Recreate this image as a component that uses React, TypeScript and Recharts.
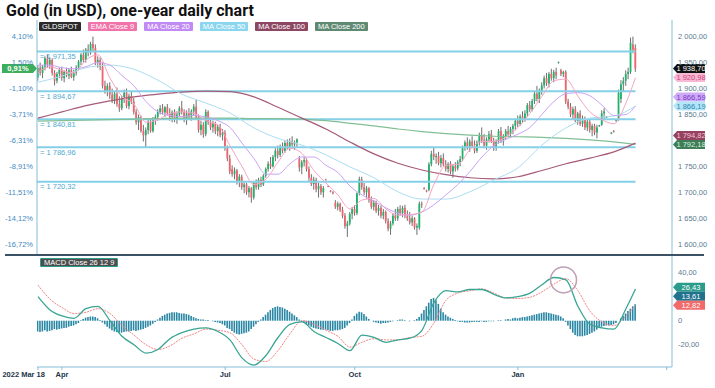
import React from "react";
import { ComposedChart, Bar, Line, XAxis, YAxis, ReferenceLine, ReferenceDot } from "recharts";

// daily gold spot sessions from 2022 Mar 18: [open, high, low, close]
const candles: ([number, number, number, number] | null)[] = [
  [1921, 1945, 1915, 1940], [1940, 1950, 1925, 1930], [1930, 1945, 1920, 1942], [1942, 1962, 1935, 1958], [1958, 1966, 1940, 1946],
  [1946, 1960, 1938, 1955], [1955, 1958, 1925, 1930], [1930, 1935, 1906, 1915], [1915, 1932, 1910, 1928], [1928, 1940, 1920, 1936],
  [1936, 1942, 1915, 1920], [1920, 1935, 1912, 1932], [1932, 1940, 1922, 1925], [1925, 1938, 1918, 1935], [1935, 1942, 1920, 1922],
  [1922, 1936, 1915, 1930], [1930, 1945, 1925, 1940], [1940, 1955, 1935, 1952], [1952, 1968, 1945, 1965], [1965, 1975, 1950, 1955],
  [1955, 1978, 1950, 1975], [1975, 1985, 1962, 1970], [1970, 1990, 1965, 1986], [1986, 2000, 1972, 1978], [1978, 1985, 1945, 1950],
  [1950, 1962, 1940, 1955], [1955, 1960, 1935, 1942], [1942, 1950, 1900, 1905], [1905, 1915, 1890, 1895], [1895, 1910, 1885, 1905],
  [1905, 1912, 1880, 1888], [1888, 1900, 1872, 1876], [1876, 1895, 1870, 1890], [1890, 1902, 1865, 1870], [1870, 1885, 1855, 1862],
  [1862, 1885, 1858, 1880], [1880, 1898, 1872, 1892], [1892, 1900, 1862, 1866], [1866, 1890, 1860, 1885], [1885, 1895, 1870, 1875],
  [1875, 1882, 1850, 1855], [1855, 1860, 1830, 1835], [1835, 1850, 1820, 1845], [1845, 1848, 1815, 1818], [1818, 1830, 1798, 1810],
  [1810, 1825, 1787, 1820], [1820, 1840, 1812, 1835], [1835, 1842, 1815, 1818], [1818, 1845, 1815, 1840], [1840, 1850, 1830, 1845],
  [1845, 1860, 1838, 1855], [1855, 1868, 1850, 1862], [1862, 1870, 1850, 1854], [1854, 1866, 1845, 1864], [1864, 1870, 1848, 1852],
  [1852, 1862, 1838, 1845], [1845, 1858, 1835, 1855], [1855, 1860, 1835, 1840], [1840, 1856, 1832, 1850], [1850, 1866, 1845, 1862],
  [1862, 1876, 1850, 1855], [1855, 1860, 1835, 1840], [1840, 1858, 1830, 1852], [1852, 1862, 1840, 1846], [1846, 1860, 1838, 1856],
  [1856, 1870, 1848, 1865], [1865, 1878, 1840, 1845], [1845, 1850, 1815, 1820], [1820, 1838, 1810, 1830], [1830, 1835, 1805, 1812],
  [1812, 1860, 1808, 1855], [1855, 1858, 1830, 1835], [1835, 1842, 1820, 1825], [1825, 1838, 1815, 1832], [1832, 1836, 1812, 1818],
  [1818, 1830, 1808, 1826], [1826, 1832, 1806, 1810], [1810, 1822, 1800, 1815], [1815, 1820, 1780, 1785], [1785, 1790, 1760, 1765],
  [1765, 1772, 1735, 1740], [1745, 1752, 1730, 1735], [1735, 1748, 1725, 1742], [1742, 1745, 1715, 1720], [1720, 1735, 1710, 1730],
  [1730, 1734, 1705, 1710], [1710, 1722, 1698, 1715], [1715, 1718, 1695, 1700], [1700, 1712, 1690, 1708], [1708, 1710, 1680, 1690],
  [1690, 1722, 1686, 1718], [1718, 1725, 1705, 1710], [1710, 1728, 1705, 1724], [1724, 1730, 1710, 1715], [1715, 1735, 1712, 1732],
  [1732, 1748, 1728, 1745], [1745, 1760, 1740, 1755], [1755, 1768, 1745, 1750], [1750, 1772, 1748, 1768], [1768, 1785, 1760, 1780],
  [1780, 1790, 1765, 1772], [1772, 1792, 1768, 1788], [1788, 1796, 1775, 1780], [1780, 1800, 1776, 1795], [1795, 1802, 1782, 1786],
  [1786, 1804, 1780, 1798], [1798, 1808, 1788, 1792], [1792, 1800, 1782, 1796], [1796, 1804, 1786, 1802], [1765, 1770, 1740, 1748],
  [1748, 1762, 1735, 1758], [1758, 1768, 1750, 1762], [1762, 1766, 1740, 1745], [1745, 1750, 1722, 1728], [1728, 1735, 1712, 1716],
  [1716, 1730, 1705, 1724], [1724, 1728, 1700, 1706], [1706, 1718, 1690, 1712], [1712, 1716, 1695, 1700], [1700, 1712, 1690, 1708],
  [1725, 1726, 1723, 1724], [1712, 1713, 1710, 1711], [1703, 1704, 1700, 1701], [1700, 1702, 1696, 1698], [1680, 1685, 1668, 1672],
  [1672, 1682, 1665, 1678], [1678, 1680, 1662, 1666], [1666, 1672, 1650, 1655], [1655, 1660, 1630, 1635], [1635, 1645, 1614, 1640],
  [1640, 1662, 1636, 1658], [1658, 1672, 1648, 1668], [1668, 1675, 1655, 1660], [1660, 1700, 1656, 1698], [1698, 1730, 1694, 1725],
  [1725, 1730, 1705, 1710], [1710, 1718, 1695, 1700], [1700, 1712, 1688, 1708], [1708, 1710, 1680, 1685], [1685, 1692, 1668, 1672],
  [1672, 1685, 1665, 1680], [1680, 1684, 1660, 1664], [1664, 1676, 1655, 1670], [1670, 1674, 1650, 1655], [1655, 1668, 1648, 1662],
  [1662, 1665, 1640, 1645], [1645, 1650, 1625, 1630], [1630, 1645, 1618, 1640], [1640, 1660, 1636, 1655], [1655, 1668, 1645, 1650],
  [1650, 1672, 1645, 1668], [1668, 1675, 1655, 1660], [1660, 1674, 1652, 1670], [1670, 1676, 1650, 1655], [1655, 1665, 1645, 1650],
  [1650, 1662, 1638, 1642], [1642, 1655, 1635, 1650], [1650, 1652, 1628, 1632], [1632, 1640, 1618, 1635], [1632, 1682, 1628, 1678],
  [1678, 1682, 1670, 1676], [1708, 1710, 1705, 1707], [1703, 1705, 1700, 1702], [1705, 1758, 1702, 1754], [1754, 1780, 1750, 1774],
  [1774, 1788, 1762, 1768], [1768, 1775, 1755, 1770], [1770, 1778, 1752, 1756], [1756, 1772, 1748, 1766], [1766, 1775, 1750, 1754],
  [1754, 1762, 1740, 1745], [1745, 1758, 1738, 1755], [1755, 1760, 1735, 1740], [1740, 1754, 1728, 1750], [1750, 1758, 1740, 1746],
  [1746, 1762, 1742, 1758], [1758, 1770, 1750, 1764], [1764, 1790, 1760, 1786], [1786, 1800, 1780, 1796], [1796, 1806, 1782, 1788],
  [1788, 1802, 1778, 1798], [1798, 1808, 1785, 1790], [1790, 1800, 1775, 1780], [1780, 1800, 1776, 1796], [1796, 1815, 1790, 1810],
  [1810, 1825, 1795, 1800], [1800, 1812, 1785, 1790], [1790, 1806, 1782, 1802], [1802, 1818, 1796, 1812], [1812, 1820, 1795, 1798],
  [1798, 1805, 1780, 1786], [1786, 1802, 1780, 1798], [1798, 1822, 1794, 1818], [1818, 1826, 1795, 1800], [1800, 1812, 1790, 1808],
  [1808, 1822, 1802, 1818], [1818, 1828, 1806, 1812], [1812, 1826, 1805, 1822], [1822, 1832, 1812, 1828], [1828, 1842, 1820, 1838],
  [1838, 1848, 1826, 1832], [1832, 1850, 1828, 1846], [1846, 1856, 1835, 1840], [1840, 1858, 1836, 1852], [1852, 1872, 1845, 1868],
  [1868, 1876, 1855, 1860], [1860, 1880, 1856, 1876], [1876, 1895, 1870, 1890], [1890, 1905, 1875, 1880], [1880, 1900, 1872, 1896],
  [1896, 1912, 1888, 1906], [1906, 1925, 1900, 1920], [1920, 1930, 1905, 1910], [1910, 1932, 1902, 1928], [1928, 1938, 1915, 1920],
  [1920, 1936, 1912, 1932], [1932, 1940, 1918, 1925], [1950, 1952, 1948, 1951], [1935, 1938, 1924, 1928], [1928, 1934, 1922, 1932],
  [1932, 1935, 1870, 1875], [1875, 1880, 1860, 1865], [1865, 1872, 1845, 1850], [1850, 1865, 1840, 1860], [1860, 1866, 1835, 1838],
  [1838, 1855, 1830, 1852], [1852, 1858, 1828, 1832], [1832, 1848, 1826, 1842], [1842, 1846, 1820, 1825], [1825, 1840, 1818, 1836],
  [1836, 1840, 1815, 1820], [1820, 1832, 1808, 1828], [1828, 1832, 1810, 1815], [1815, 1830, 1804, 1825], [1828, 1830, 1826, 1829],
  [1830, 1858, 1828, 1852], [1852, 1862, 1840, 1856], [1845, 1847, 1843, 1846], null, [1814, 1816, 1812, 1815],
  [1818, 1820, 1815, 1817], [1838, 1840, 1836, 1839], [1840, 1898, 1838, 1892], [1880, 1916, 1872, 1908], [1908, 1922, 1895, 1915],
  [1915, 1935, 1905, 1928], [1928, 1940, 1918, 1932], [1932, 1998, 1928, 1988], [1985, 2000, 1968, 1975], [1978, 1985, 1932, 1938.7],
];

// indicator readings, every 5th / 10th session plus the last one
const every5 = [...Array.from({ length: 50 }, (_, k) => k * 5), 249];
const every10 = [...Array.from({ length: 25 }, (_, k) => k * 10), 249];

const ema9 = [
  1930, 1942, 1935, 1930, 1955, 1965, 1920, 1885, 1870, 1835,
  1840, 1852, 1855, 1852, 1838, 1830, 1790, 1750, 1715, 1725,
  1758, 1785, 1775, 1742, 1718, 1695, 1668, 1685, 1688, 1668,
  1656, 1657, 1662, 1715, 1752, 1754, 1782, 1798, 1798, 1806,
  1825, 1852, 1885, 1915, 1918, 1885, 1855, 1840, 1832, 1872, 1920.98,
];
const ma20 = [
  1945, 1945, 1940, 1938, 1942, 1950, 1945, 1925, 1905, 1875,
  1855, 1848, 1846, 1848, 1845, 1838, 1825, 1795, 1765, 1735,
  1735, 1755, 1768, 1768, 1752, 1738, 1712, 1695, 1683, 1670,
  1660, 1656, 1662, 1676, 1695, 1715, 1740, 1768, 1790, 1802,
  1812, 1825, 1850, 1875, 1890, 1892, 1886, 1868, 1848, 1850, 1866.59,
];
const ma50 = [1912, 1924, 1940, 1945, 1937, 1916, 1889, 1872, 1853, 1824, 1804, 1791, 1772, 1749, 1728, 1701, 1687, 1687, 1701, 1724, 1747, 1791, 1824, 1843, 1847, 1866.19];
const ma100 = [1843, 1855, 1867, 1876, 1884, 1889, 1893, 1895, 1894, 1884, 1864, 1843, 1822, 1797, 1774, 1756, 1743, 1734, 1728, 1726, 1730, 1742, 1755, 1766, 1778, 1794.82];
const ma200 = [1837, 1838, 1839, 1840, 1841, 1842, 1843, 1843, 1843, 1842, 1842, 1841, 1838, 1833, 1828, 1822, 1817, 1813, 1810, 1808, 1807, 1806, 1804, 1801, 1797, 1792.18];

const macdLine = [
  20, 9, 4, 2, 10, 12, 0, -13, -20, -27,
  -24, -15, -10, -7, -6, -9, -16, -31, -37, -29,
  -14, -3, -1, -9, -14, -19, -25, -12, -14, -18,
  -16, -14.6, -8, 15, 25, 24, 26, 26, 22, 19,
  20, 23, 30, 36, 34, 12, -3, -6, -7, 10, 26.43,
];
const signalLine = [
  29.7, 18, 11, 6, 7, 10, 6, -4, -12, -20,
  -24, -21, -14.6, -11, -7, -8, -10, -20, -32, -34,
  -25, -11, 0, -3, -8, -13, -22, -18, -15, -16,
  -16, -14, -13, -2, 17, 23, 25, 26.5, 23, 19,
  18.5, 19.5, 24, 30.5, 35, 25, 8, -1, -4, 4, 12.82,
];
const macdHist = [
  -9, -9.5, -9, -8, -9, -8.5, -8, -7, -7.5, -7,
  -6.5, -6, -6, -5, -4.5, -4, -3, -2, 0.5, 1.5,
  2.5, 3, 3.5, 3.5, 3, 2, 0.5, -1.5, -3, -5,
  -6.5, -8, -9, -9.5, -10, -10, -9.5, -9, -9, -8.5,
  -8, -8.5, -8, -7.5, -7, -6, -5, -4, -2.5, -1,
  1, 2.5, 4, 5, 6, 6.5, 7, 7, 7, 6.5,
  6, 6, 5.5, 5, 4, 3, 2, 1.5, 1, 1,
  0.5, 0.5, 0, -0.5, -1, -1.5, -2, -3, -4, -6,
  -7, -8.5, -10, -11, -11.5, -11, -10.5, -10, -9, -7,
  -5, -3, -1, 1, 3, 5, 7, 9, 10.5, 11.5,
  12, 11.5, 11, 10, 9, 7.5, 6, 4.5, 3, 1,
  -1, -2, -3, -4, -5, -6, -6.5, -7, -7.5, -7.5,
  -7.5, -8, -8.5, -8.5, -8, -8, -7.5, -7, -6, -4,
  -2, 1, 4, 6, 7.5, 7, 5.5, 3.5, 1.5, 0,
  -1, -1.5, -2, -2.5, -2, -2, -1.5, -1, -0.5, 0,
  0.5, 1, 1, 0.5, 0, -0.5, 0, 0.5, 1.5, 3,
  6, 9, 12, 15, 18, 19, 17, 14, 10, 7,
  5, 3.5, 2.5, 1.5, 0.5, -0.5, -1, -1, -1.5, -1.5,
  -1.5, -1, -1, -1, -1, -0.5, -1, -1, -0.5, -0.5,
  -0.5, 0, 0.5, 0.5, 0, 1, 1.5, 1, 2, 2.5,
  2, 2.5, 3, 3, 3.5, 4, 4.5, 5, 5.5, 6,
  6.5, 7, 7, 6.5, 6, 5.5, 5, 4.5, 3.5, 2,
  -1, -4, -7, -10, -12, -13, -13, -13, -12.5, -12,
  -11, -10, -9, -7.5, -6, -5, -4.5, -4, -4, -3.5,
  -3, -2, 0, 2, 4, 6, 8, 10, 12, 13.61,
];

const levels = [1971.35, 1894.67, 1840.81, 1786.96, 1720.32];
const priceTicks = [1600, 1650, 1700, 1750, 1800, 1850, 1900, 1950, 2000];
const pctLabels = ["-16,72%", "-14,12%", "-11,51%", "-8,91%", "-6,31%", "-3,71%", "-1,10%", "1,50%", "4,10%"];
const hiddenPriceTicks = [1800]; // sits under the MA tags in the original
const lastChange = "0,91%";
const macdTicks = [-20, 0, 40];
const xTicks = [0, 10, 78, 132, 200, 262];
const xLabels = ["2022 Mar 18", "Apr", "Jul", "Oct", "Jan", ""];

const priceTagNames = ["close", "ema9", "ma20", "ma50", "ma100", "ma200"];
const priceTagValues = [1938.7, 1920.98, 1866.59, 1866.19, 1794.82, 1792.18];
const macdTagNames = ["macd", "hist", "signal"];
const macdTagValues = [26.43, 13.61, 12.82];
const circleAt = { i: 219, value: 34 };

const legendNames = ["GLDSPOT", "EMA Close 9", "MA Close 20", "MA Close 50", "MA Close 100", "MA Close 200"];

const COLORS: Record<string, { line?: string; badge: string; tag: string; tagText: string }> = {
  close: { badge: "#2b2b2b", tag: "#111111", tagText: "#ffffff" },
  ema9: { line: "#f5a5c6", badge: "#f273a9", tag: "#f9b8d3", tagText: "#cf447e" },
  ma20: { line: "#c8a5f5", badge: "#c08af5", tag: "#cfaaf7", tagText: "#7a3ec5" },
  ma50: { line: "#acdef1", badge: "#8ad6ef", tag: "#b5e5f6", tagText: "#2a88b5" },
  ma100: { line: "#a55a79", badge: "#8c4762", tag: "#94425f", tagText: "#f5c3d6" },
  ma200: { line: "#82bf96", badge: "#5f8a72", tag: "#3e7d55", tagText: "#d8f1e0" },
  macd: { line: "#3aa592", badge: "#4a4a4a", tag: "#2b9c8c", tagText: "#ffffff" },
  hist: { line: "#2a87a4", badge: "#4a4a4a", tag: "#22718d", tagText: "#ffffff" },
  signal: { line: "#f08585", badge: "#4a4a4a", tag: "#f26b6b", tagText: "#ffffff" },
};

const X_DOMAIN: [number, number] = [-0.4, 264.2];
const PRICE_DOMAIN: [number, number] = [1579.2, 2032];
const MACD_DOMAIN: [number, number] = [-38.6, 54.75];
const PRICE_PLOT_H = 235;
const MACD_PLOT_H = 112;
const TAG_H = 9;
const AXIS = "#86bdd6";
const FONT = "Arial, 'Liberation Sans', sans-serif";

const at = (idx: number[], vals: number[], i: number) => {
  const k = idx.indexOf(i);
  return k < 0 ? null : vals[k];
};

const rows = candles.map((k, i) => ({
  i,
  o: k ? k[0] : null,
  h: k ? k[1] : null,
  l: k ? k[2] : null,
  c: k ? k[3] : null,
  ema9: at(every5, ema9, i),
  ma20: at(every5, ma20, i),
  ma50: at(every10, ma50, i),
  ma100: at(every10, ma100, i),
  ma200: at(every10, ma200, i),
  macd: at(every5, macdLine, i),
  signal: at(every5, signalLine, i),
  hist: macdHist[i],
}));

// "1 938,70" style, with a no-break space so axis labels never wrap
const fmt = (v: number) => {
  if (v === 0) return "0";
  const [int, dec] = v.toFixed(2).split(".");
  return int.replace(/\B(?=(\d{3})+(?!\d))/g, "\u00a0") + "," + dec;
};

// push overlapping axis tags apart (value units), lowest stays put
function spread(values: number[], gap: number) {
  const order = values.map((_, k) => k).sort((a, b) => values[a] - values[b]);
  const out = values.slice();
  let prev = -Infinity;
  order.forEach((k) => {
    out[k] = Math.max(values[k], prev + gap);
    prev = out[k];
  });
  return out;
}

const priceTagPos = spread(priceTagValues, (TAG_H * (PRICE_DOMAIN[1] - PRICE_DOMAIN[0])) / PRICE_PLOT_H);
const macdTagPos = spread(macdTagValues, (TAG_H * (MACD_DOMAIN[1] - MACD_DOMAIN[0])) / MACD_PLOT_H);

function Candle(props: any) {
  const { x, y, width, height, payload } = props;
  if (!payload || payload.o == null || !isFinite(y) || !isFinite(height)) return null;
  const { o, h, l, c } = payload;
  const top = Math.min(y, y + height);
  const span = Math.abs(height);
  const per = span / (h - l);
  const cx = x + width / 2;
  const b1 = top + (h - Math.max(o, c)) * per;
  const b2 = top + (h - Math.min(o, c)) * per;
  return (
    <g>
      <line x1={cx} x2={cx} y1={top} y2={top + span} stroke="#5e5e5e" strokeWidth={0.9} />
      <rect x={cx - 0.9} y={b1} width={1.8} height={Math.max(b2 - b1, 0.9)} fill={c >= o ? "#1fb36c" : "#f0646c"} />
    </g>
  );
}

function SideTag(props: any) {
  const { viewBox, text, bg, fg, side } = props;
  if (!viewBox) return null;
  const y = viewBox.y;
  if (side === "left") {
    const x1 = viewBox.x;
    return (
      <g>
        <path d={`M${x1 - 35},${y - 4.5}H${x1 - 4}L${x1},${y}L${x1 - 4},${y + 4.5}H${x1 - 35}Z`} fill={bg} />
        <text x={x1 - 19} y={y} dy="0.35em" textAnchor="middle" fontSize={7.5} fontWeight={700} fill={fg} fontFamily={FONT}>
          {text}
        </text>
      </g>
    );
  }
  const x0 = viewBox.x + viewBox.width + 1;
  return (
    <g>
      <path d={`M${x0},${y}L${x0 + 4},${y - 4.5}H${x0 + 32}V${y + 4.5}H${x0 + 4}Z`} fill={bg} />
      <text x={x0 + 18} y={y} dy="0.35em" textAnchor="middle" fontSize={7.5} fill={fg} fontFamily={FONT}>
        {text}
      </text>
    </g>
  );
}

function LevelLabel(props: any) {
  const { viewBox, text } = props;
  if (!viewBox) return null;
  return (
    <text x={viewBox.x + 3} y={viewBox.y + 7.5} fontSize={7.5} fill="#4fa9cf" fontFamily={FONT}>
      {text}
    </text>
  );
}

function DateTick(props: any) {
  const { x, y, payload } = props;
  const k = xTicks.indexOf(payload.value);
  const first = k === 0;
  return (
    <text x={first ? x + 7 : x} y={y} dy="0.71em" textAnchor={first ? "end" : "middle"} fontSize={7.5} fontWeight={700} fill="#23364a" fontFamily={FONT}>
      {xLabels[k]}
    </text>
  );
}

const badge = (bg: string): React.CSSProperties => ({
  background: bg,
  color: "#fff",
  fontSize: 7.5,
  lineHeight: "9px",
  height: 9,
  padding: "0 3px",
  borderRadius: 1,
  whiteSpace: "nowrap",
});

export default function App() {
  return (
    <div style={{ position: "absolute", left: 0, top: 0, width: 715, height: 388, background: "#fff", overflow: "hidden", fontFamily: FONT }}>
      <div style={{ position: "absolute", left: 6, top: 0, fontFamily: "Roboto, Arial, sans-serif", fontWeight: 700, fontSize: 16, lineHeight: "22px", color: "#111" }}>
        Gold (in USD), one-year daily chart
      </div>

      <div style={{ position: "absolute", left: 0, top: 0 }}>
        <ComposedChart width={715} height={256} data={rows} margin={{ top: 20, right: 0, bottom: 1, left: 0 }}>
          <XAxis type="number" dataKey="i" domain={X_DOMAIN} allowDataOverflow hide />
          <YAxis
            yAxisId="pct"
            orientation="left"
            width={37}
            type="number"
            domain={PRICE_DOMAIN}
            allowDataOverflow
            ticks={priceTicks}
            interval={0}
            tickFormatter={(v: number) => pctLabels[priceTicks.indexOf(v)]}
            tick={{ fontSize: 7.5, fill: "#3f89bf", fontFamily: FONT }}
            tickLine={false}
            tickSize={4}
            tickMargin={0}
            axisLine={{ stroke: AXIS }}
          />
          <YAxis
            yAxisId="px"
            orientation="right"
            width={43}
            type="number"
            domain={PRICE_DOMAIN}
            allowDataOverflow
            ticks={priceTicks}
            interval={0}
            tickFormatter={(v: number) => (hiddenPriceTicks.includes(v) ? "" : fmt(v))}
            tick={{ fontSize: 7.5, fill: "#5a7b90", fontFamily: FONT }}
            tickLine={false}
            tickSize={4}
            tickMargin={2}
            axisLine={{ stroke: AXIS }}
          />
          {levels.map((v) => (
            <ReferenceLine
              key={v}
              yAxisId="px"
              segment={[{ x: X_DOMAIN[0], y: v }, { x: 249, y: v }]}
              stroke="#84d0e6"
              strokeWidth={2}
              label={<LevelLabel text={"= " + fmt(v)} />}
            />
          ))}
          <Line yAxisId="px" dataKey="ma200" type="monotone" connectNulls dot={false} stroke={COLORS.ma200.line} strokeWidth={1.2} isAnimationActive={false} />
          <Line yAxisId="px" dataKey="ma100" type="monotone" connectNulls dot={false} stroke={COLORS.ma100.line} strokeWidth={1.2} isAnimationActive={false} />
          <Line yAxisId="px" dataKey="ma50" type="monotone" connectNulls dot={false} stroke={COLORS.ma50.line} strokeWidth={1} isAnimationActive={false} />
          <Line yAxisId="px" dataKey="ma20" type="monotone" connectNulls dot={false} stroke={COLORS.ma20.line} strokeWidth={1} isAnimationActive={false} />
          <Line yAxisId="px" dataKey="ema9" type="monotone" connectNulls dot={false} stroke={COLORS.ema9.line} strokeWidth={1} isAnimationActive={false} />
          <Bar
            yAxisId="px"
            dataKey={(d: any) => (d.o == null ? null : [d.l, d.h])}
            barSize={2}
            shape={(p: any) => <Candle {...p} />}
            isAnimationActive={false}
          />
          <ReferenceLine
            yAxisId="px"
            y={priceTagValues[0]}
            stroke="none"
            label={<SideTag side="left" text={lastChange} bg="#3eae5c" fg="#ffffff" />}
          />
          {priceTagNames.map((n, k) => (
            <ReferenceLine
              key={n}
              yAxisId="px"
              y={priceTagPos[k]}
              stroke="none"
              label={<SideTag text={fmt(priceTagValues[k])} bg={COLORS[n].tag} fg={COLORS[n].tagText} />}
            />
          ))}
        </ComposedChart>
      </div>

      <div style={{ position: "absolute", left: 0, top: 255 }}>
        <ComposedChart width={715} height={133} data={rows} margin={{ top: 0, right: 0, bottom: 0, left: 37 }}>
          <XAxis
            type="number"
            dataKey="i"
            domain={X_DOMAIN}
            allowDataOverflow
            ticks={xTicks}
            interval={0}
            height={21}
            tick={<DateTick />}
            tickSize={3}
            tickMargin={2}
            tickLine={{ stroke: AXIS }}
            axisLine={{ stroke: AXIS }}
          />
          <YAxis
            orientation="right"
            width={43}
            type="number"
            domain={MACD_DOMAIN}
            allowDataOverflow
            ticks={macdTicks}
            interval={0}
            tickFormatter={fmt}
            tick={{ fontSize: 7.5, fill: "#5a7b90", fontFamily: FONT }}
            tickLine={false}
            tickSize={4}
            tickMargin={2}
            axisLine={{ stroke: AXIS }}
          />
          <Bar dataKey="hist" fill={COLORS.hist.line} barSize={1.6} isAnimationActive={false} />
          <Line dataKey="signal" type="monotone" connectNulls dot={false} stroke={COLORS.signal.line} strokeWidth={1} strokeDasharray="2 1" isAnimationActive={false} />
          <Line dataKey="macd" type="monotone" connectNulls dot={false} stroke={COLORS.macd.line} strokeWidth={1.3} isAnimationActive={false} />
          <ReferenceDot x={circleAt.i} y={circleAt.value} r={13} fill="none" stroke="#bf9fb6" strokeWidth={1.5} ifOverflow="visible" />
          {macdTagNames.map((n, k) => (
            <ReferenceLine
              key={n}
              y={macdTagPos[k]}
              stroke="none"
              label={<SideTag text={fmt(macdTagValues[k])} bg={COLORS[n].tag} fg={COLORS[n].tagText} />}
            />
          ))}
        </ComposedChart>
      </div>

      <div style={{ position: "absolute", left: 5, top: 254, width: 699, height: 2, background: "#3a5264" }} />

      <div style={{ position: "absolute", left: 39, top: 22, display: "flex", gap: 7 }}>
        {legendNames.map((name, k) => (
          <div key={name} style={badge(COLORS[priceTagNames[k]].badge)}>
            {name}
          </div>
        ))}
      </div>

      <div style={{ position: "absolute", left: 40, top: 258, ...badge("#4d4d4d"), border: "1px solid #2b9c8c", lineHeight: "7px", height: 7 }}>
        MACD Close 26 12 9
      </div>
    </div>
  );
}
